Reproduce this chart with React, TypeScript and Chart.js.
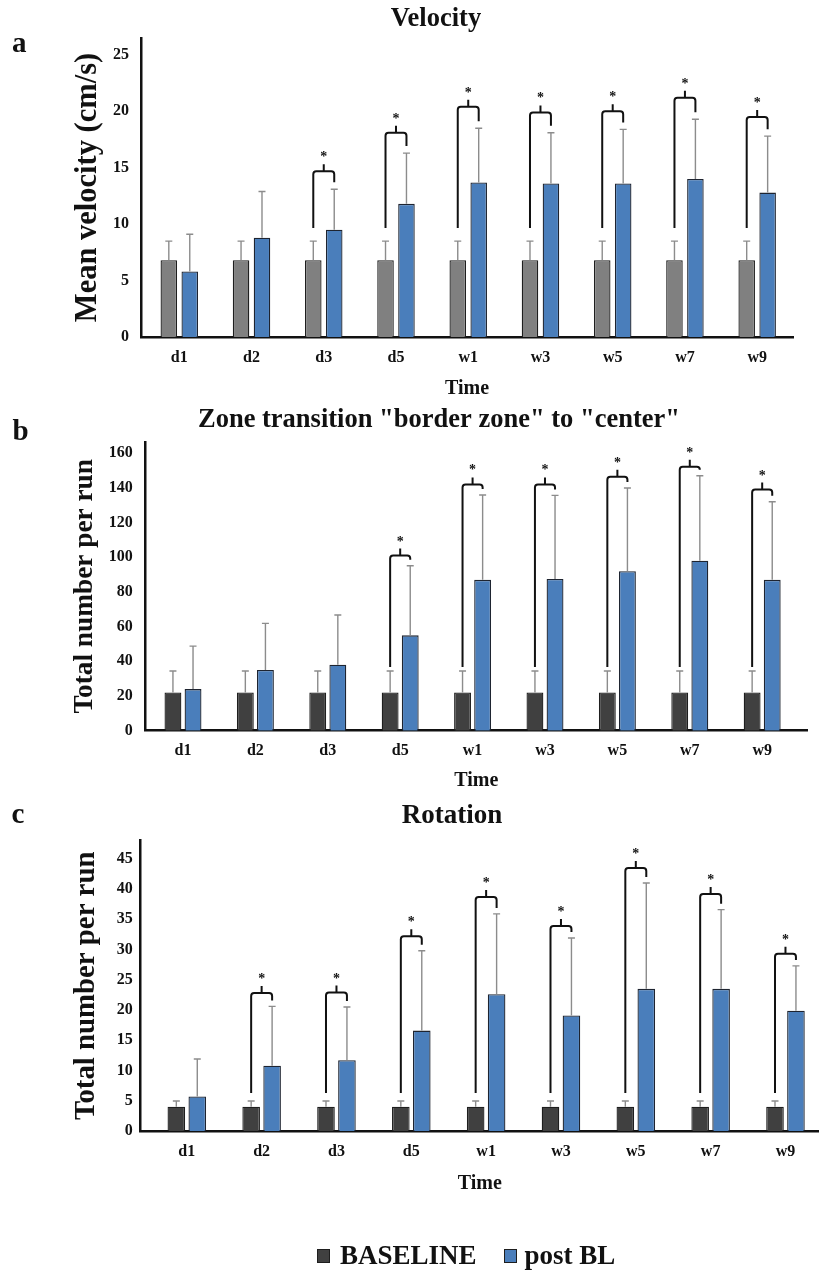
import React, { useEffect, useRef } from 'react';
import { Chart, registerables } from 'chart.js';

Chart.register(...registerables);

const FONT = '"Liberation Serif", "Times New Roman", serif';
const BLUE = '#4a7ebb';
const INK = '#111111';

// ---------- shared ----------
const categories = ['d1', 'd2', 'd3', 'd5', 'w1', 'w3', 'w5', 'w7', 'w9'];
const legendLabels = ['BASELINE', 'post BL'];

// ---------- panel a: Velocity ----------
const velocityBaseline = [6.8, 6.8, 6.8, 6.8, 6.8, 6.8, 6.8, 6.8, 6.8];
const velocityBaselineErr = [1.7, 1.7, 1.7, 1.7, 1.7, 1.7, 1.7, 1.7, 1.7];
const velocityPost = [5.8, 8.8, 9.5, 11.8, 13.7, 13.6, 13.6, 14.0, 12.8];
const velocityPostErr = [3.3, 4.1, 3.6, 4.5, 4.8, 4.5, 4.8, 5.3, 5.0];
const velocitySig = [null, null, 14.7, 18.1, 20.4, 19.9, 20.0, 21.2, 19.5];
const velocityTicks = [0, 5, 10, 15, 20, 25];

// ---------- panel b: Zone transition ----------
const zoneBaseline = [22, 22, 22, 22, 22, 22, 22, 22, 22];
const zoneBaselineErr = [12.4, 12.4, 12.4, 12.4, 12.4, 12.4, 12.4, 12.4, 12.4];
const zonePost = [24, 35, 38, 55, 87, 87.5, 92, 98, 87];
const zonePostErr = [24.8, 26.9, 28.7, 40.1, 48.9, 48.2, 48, 49, 45];
const zoneSig = [null, null, null, 101, 142, 142, 146.4, 152.2, 139.1];
const zoneTicks = [0, 20, 40, 60, 80, 100, 120, 140, 160];

// ---------- panel c: Rotation ----------
const rotationBaseline = [4.0, 4.0, 4.0, 4.0, 4.0, 4.0, 4.0, 4.0, 4.0];
const rotationBaselineErr = [0.95, 0.95, 0.95, 0.95, 0.95, 0.95, 0.95, 0.95, 0.95];
const rotationPost = [5.7, 10.8, 11.7, 16.6, 22.6, 19.1, 23.5, 23.5, 19.9];
const rotationPostErr = [6.2, 9.8, 8.8, 13.2, 13.3, 12.8, 17.5, 13.1, 7.4];
const rotationSig = [null, 22.8, 22.9, 32.2, 38.7, 33.9, 43.5, 39.2, 29.3];
const rotationTicks = [0, 5, 10, 15, 20, 25, 30, 35, 40, 45];

type PanelSpec = {
  letter: string;
  title: string;
  yTitle: string;
  baseline: number[];
  baselineErr: number[];
  post: number[];
  postErr: number[];
  sig: (number | null)[];
  yTicks: number[];
  yMax: number;
  baseColor: string;
  // layout (pixels inside the panel canvas)
  top: number;
  height: number;
  chartLeft: number;
  chartRight: number;
  chartTop: number;
  chartBottom: number;
  titleSize: number;
  titleCenterX: number;
  titleCenterY: number;
  yTitleSize: number;
  yTitleCenterX: number;
  timeCenterY: number;
  yTickPad: number;
  xMin: number;
  xMax: number;
  catPct: number;
  barPct: number;
  letterX: number;
  letterY: number;
  leftGap: number;
  rightGap: number;
};

const panels: PanelSpec[] = [
  {
    letter: 'a', title: 'Velocity', yTitle: 'Mean velocity (cm/s)',
    baseline: velocityBaseline, baselineErr: velocityBaselineErr,
    post: velocityPost, postErr: velocityPostErr, sig: velocitySig,
    yTicks: velocityTicks, yMax: 26.5, baseColor: '#808080',
    top: 0, height: 400, chartLeft: 141, chartRight: 793, chartTop: 38, chartBottom: 337,
    titleSize: 26.5, titleCenterX: 436, titleCenterY: 19.5,
    yTitleSize: 30.5, yTitleCenterX: 88, timeCenterY: 389,
    yTickPad: 12, xMin: -0.53, xMax: 8.496, catPct: 0.58, barPct: 0.79,
    letterX: 12, letterY: 51.5, leftGap: 13, rightGap: 7,
  },
  {
    letter: 'b', title: 'Zone transition "border zone" to "center"', yTitle: 'Total number per run',
    baseline: zoneBaseline, baselineErr: zoneBaselineErr,
    post: zonePost, postErr: zonePostErr, sig: zoneSig,
    yTicks: zoneTicks, yMax: 166.5, baseColor: '#404040',
    top: 400, height: 400, chartLeft: 145.7, chartRight: 807, chartTop: 42, chartBottom: 330.7,
    titleSize: 26.5, titleCenterX: 439, titleCenterY: 20,
    yTitleSize: 27.3, yTitleCenterX: 85, timeCenterY: 380.6,
    yTickPad: 13, xMin: -0.515, xMax: 8.619, catPct: 0.555, barPct: 0.84,
    letterX: 12.5, letterY: 40, leftGap: 4, rightGap: 6,
  },
  {
    letter: 'c', title: 'Rotation', yTitle: 'Total number per run',
    baseline: rotationBaseline, baselineErr: rotationBaselineErr,
    post: rotationPost, postErr: rotationPostErr, sig: rotationSig,
    yTicks: rotationTicks, yMax: 48, baseColor: '#404040',
    top: 800, height: 471, chartLeft: 140.7, chartRight: 819, chartTop: 40.7, chartBottom: 331,
    titleSize: 27, titleCenterX: 452, titleCenterY: 16.5,
    yTitleSize: 28.8, yTitleCenterX: 87, timeCenterY: 384,
    yTickPad: 8, xMin: -0.616, xMax: 8.448, catPct: 0.56, barPct: 0.84,
    letterX: 11.5, letterY: 23.3, leftGap: 8, rightGap: 6,
  },
];

const bold = (size: number) => ({ family: FONT, size, weight: 'bold' as const });

function errorBarPlugin(s: PanelSpec) {
  return {
    id: 'errorBars' + s.letter,
    afterDatasetsDraw(chart: any) {
      const ctx = chart.ctx;
      const yScale = chart.scales.y;
      const sets: [number[], number[]][] = [
        [s.baseline, s.baselineErr],
        [s.post, s.postErr],
      ];
      ctx.save();
      ctx.strokeStyle = '#8c8c8c';
      ctx.lineWidth = 1.4;
      sets.forEach(([vals, errs], d) => {
        const meta = chart.getDatasetMeta(d);
        meta.data.forEach((el: any, i: number) => {
          const x = el.x;
          const yb = el.y;
          const yt = yScale.getPixelForValue(vals[i] + errs[i]);
          ctx.beginPath();
          ctx.moveTo(x, yb);
          ctx.lineTo(x, yt);
          ctx.moveTo(x - 3.5, yt);
          ctx.lineTo(x + 3.5, yt);
          ctx.stroke();
        });
      });
      ctx.restore();
    },
  };
}

function bracketPlugin(s: PanelSpec) {
  return {
    id: 'brackets' + s.letter,
    afterDatasetsDraw(chart: any) {
      const ctx = chart.ctx;
      const yScale = chart.scales.y;
      const m0 = chart.getDatasetMeta(0);
      const m1 = chart.getDatasetMeta(1);
      ctx.save();
      ctx.strokeStyle = INK;
      ctx.fillStyle = INK;
      ctx.lineWidth = 2;
      ctx.lineJoin = 'round';
      ctx.lineCap = 'butt';
      ctx.font = `bold 14px ${FONT}`;
      ctx.textAlign = 'center';
      ctx.textBaseline = 'alphabetic';
      s.sig.forEach((top, i) => {
        if (top == null) return;
        const gx = m0.data[i].x;
        const bx = m1.data[i].x;
        const yt = yScale.getPixelForValue(top);
        const yl = yScale.getPixelForValue(s.baseline[i] + s.baselineErr[i]) - s.leftGap;
        const yr = yScale.getPixelForValue(s.post[i] + s.postErr[i]) - s.rightGap;
        const mx = (gx + bx) / 2;
        ctx.beginPath();
        ctx.moveTo(gx, yl);
        ctx.lineTo(gx, yt + 3);
        ctx.quadraticCurveTo(gx, yt, gx + 3, yt);
        ctx.lineTo(bx - 3, yt);
        ctx.quadraticCurveTo(bx, yt, bx, yt + 3);
        ctx.lineTo(bx, yr);
        ctx.moveTo(mx, yt);
        ctx.lineTo(mx, yt - 7);
        ctx.stroke();
        ctx.fillText('*', mx, yt - 10);
      });
      ctx.restore();
    },
  };
}

function letterPlugin(s: PanelSpec) {
  return {
    id: 'letter' + s.letter,
    afterDraw(chart: any) {
      const ctx = chart.ctx;
      ctx.save();
      ctx.fillStyle = INK;
      ctx.font = `bold 29px ${FONT}`;
      ctx.textAlign = 'left';
      ctx.textBaseline = 'alphabetic';
      ctx.fillText(s.letter, s.letterX, s.letterY);
      ctx.restore();
    },
  };
}

function makeChart(canvas: HTMLCanvasElement, s: PanelSpec) {
  const W = 819;
  const layoutLeft = 2 * s.titleCenterX - s.chartRight;
  const yWidth = s.chartLeft - layoutLeft;
  const xHeight = s.height - s.chartBottom;
  const titleLine = s.titleSize * 1.2;
  const yTitleLine = s.yTitleSize * 1.2;
  const timeLine = 20 * 1.2;

  return new Chart(canvas, {
    type: 'bar',
    data: {
      datasets: [
        {
          label: legendLabels[0],
          data: s.baseline.map((v, i) => ({ x: i, y: v })),
          backgroundColor: s.baseColor,
          borderColor: '#1e1e1e',
          borderWidth: 1.3,
          categoryPercentage: s.catPct,
          barPercentage: s.barPct,
        },
        {
          label: legendLabels[1],
          data: s.post.map((v, i) => ({ x: i, y: v })),
          backgroundColor: BLUE,
          borderColor: '#1e2430',
          borderWidth: 1.3,
          categoryPercentage: s.catPct,
          barPercentage: s.barPct,
        },
      ],
    } as any,
    options: {
      responsive: false,
      animation: false,
      events: [],
      layout: {
        padding: { left: layoutLeft, right: W - s.chartRight, top: 0, bottom: 0 },
      },
      plugins: {
        legend: { display: false },
        tooltip: { enabled: false },
        title: {
          display: true,
          text: s.title,
          color: INK,
          font: bold(s.titleSize),
          padding: {
            top: s.titleCenterY - titleLine / 2,
            bottom: s.chartTop - s.titleCenterY - titleLine / 2,
          },
        },
      },
      scales: {
        x: {
          type: 'linear',
          min: s.xMin,
          max: s.xMax,
          offset: false,
          grid: { display: false, drawTicks: false, offset: false },
          border: { display: true, color: INK, width: 2.5 },
          afterBuildTicks: (sc: any) => {
            sc.ticks = categories.map((_, i) => ({ value: i }));
          },
          afterFit: (sc: any) => {
            sc.height = xHeight;
          },
          ticks: {
            autoSkip: false,
            maxRotation: 0,
            minRotation: 0,
            padding: 11,
            color: INK,
            font: bold(16),
            callback: (v: any) => categories[v as number] ?? '',
          },
          title: {
            display: true,
            text: 'Time',
            color: INK,
            font: bold(20),
            padding: { top: 0, bottom: s.height - s.timeCenterY - timeLine / 2 },
          },
        },
        y: {
          type: 'linear',
          min: 0,
          max: s.yMax,
          grid: { display: false, drawTicks: false },
          border: { display: true, color: INK, width: 2.5 },
          afterBuildTicks: (sc: any) => {
            sc.ticks = s.yTicks.map((v) => ({ value: v }));
          },
          afterFit: (sc: any) => {
            sc.width = yWidth;
          },
          ticks: {
            padding: s.yTickPad,
            color: INK,
            font: bold(16),
          },
          title: {
            display: true,
            text: s.yTitle,
            color: INK,
            font: bold(s.yTitleSize),
            padding: { top: s.yTitleCenterX - layoutLeft - yTitleLine / 2, bottom: 0 },
          },
        },
      },
    } as any,
    plugins: [errorBarPlugin(s), bracketPlugin(s), letterPlugin(s)],
  });
}

function Panel({ spec }: { spec: PanelSpec }) {
  const ref = useRef<HTMLCanvasElement | null>(null);
  useEffect(() => {
    if (!ref.current) return;
    const chart = makeChart(ref.current, spec);
    return () => chart.destroy();
  }, [spec]);
  return (
    <div style={{ position: 'absolute', left: 0, top: spec.top, width: 819, height: spec.height }}>
      <canvas ref={ref} width={819} height={spec.height} style={{ width: 819, height: spec.height, display: 'block' }} />
    </div>
  );
}

const legendColors = ['#404040', BLUE];

export default function App() {
  return (
    <div
      style={{
        position: 'absolute',
        left: 0,
        top: 0,
        width: 819,
        height: 1271,
        overflow: 'hidden',
        background: '#ffffff',
      }}
    >
      {panels.map((p) => (
        <Panel key={p.letter} spec={p} />
      ))}
      <div
        style={{
          position: 'absolute',
          left: 317,
          top: 1242,
          display: 'flex',
          alignItems: 'center',
          fontFamily: FONT,
          fontWeight: 'bold',
          fontSize: 27,
          lineHeight: '27px',
          color: INK,
          whiteSpace: 'nowrap',
        }}
      >
        {legendLabels.map((label, i) => (
          <React.Fragment key={label}>
            <span
              style={{
                display: 'inline-block',
                width: 13,
                height: 14,
                boxSizing: 'border-box',
                background: legendColors[i],
                border: '1px solid #1e1e1e',
                marginLeft: i === 0 ? 0 : 27,
                marginRight: i === 0 ? 10 : 8,
              }}
            />
            <span>{label}</span>
          </React.Fragment>
        ))}
      </div>
    </div>
  );
}
